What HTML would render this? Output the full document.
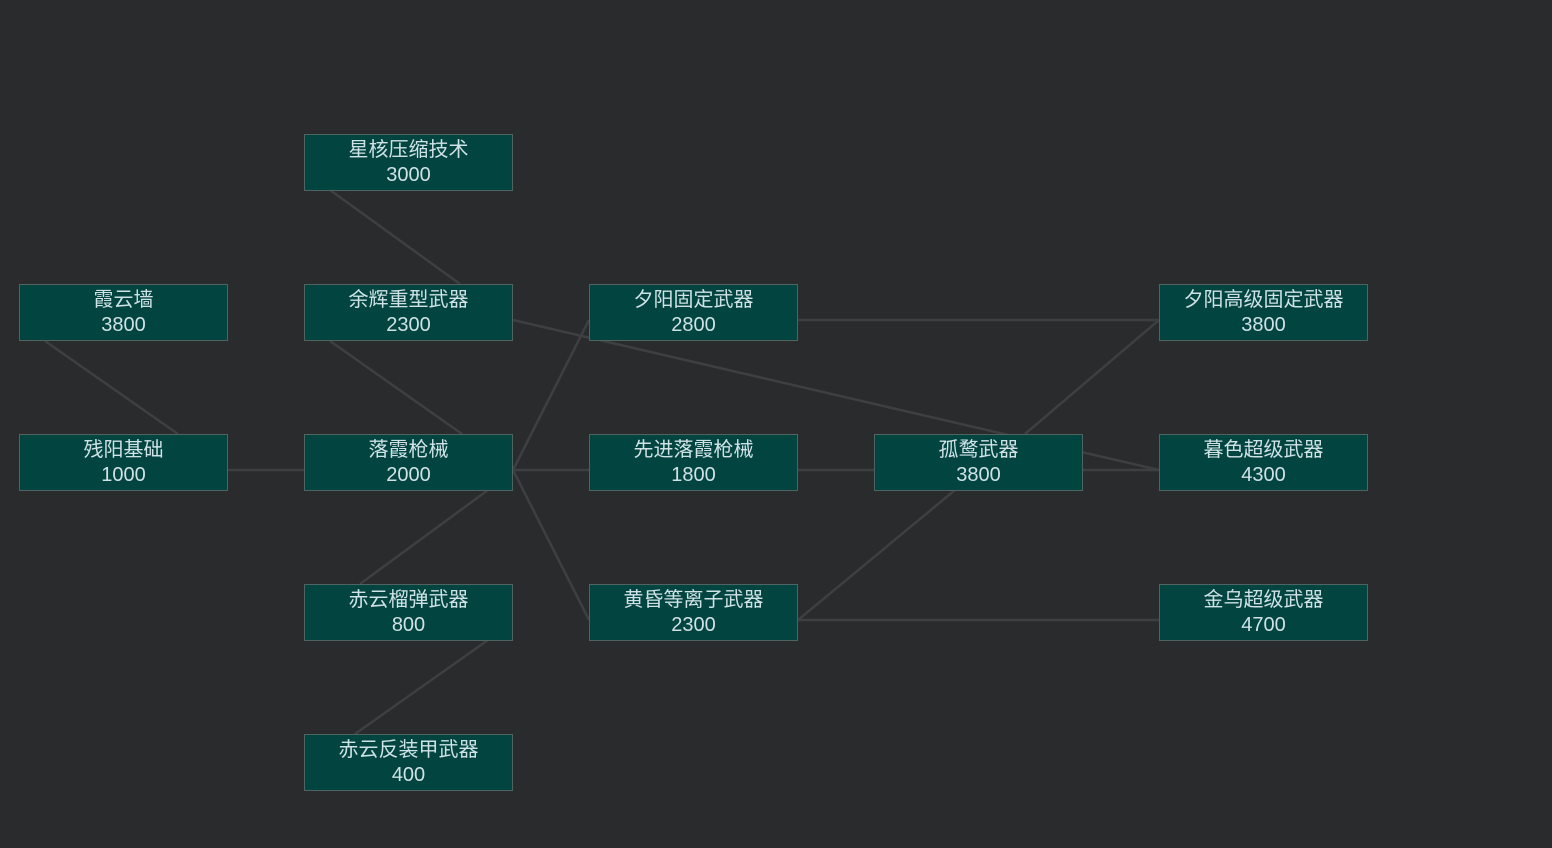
<!DOCTYPE html>
<html><head><meta charset="utf-8"><style>
html,body{margin:0;padding:0;background:#2a2b2d;width:1552px;height:848px;overflow:hidden}
svg{position:absolute;left:0;top:0}
.n{position:absolute;width:207px;background:#024440;border:1px solid #4f6361;color:#cfe2e6;font-family:"Liberation Sans","Noto Sans CJK SC",sans-serif;font-size:20px;line-height:25px;text-align:center;padding-top:3px;box-sizing:content-box;height:52px}
</style></head><body>
<svg width="1552" height="848"><g stroke="#3e3f40" stroke-width="2.5" fill="none">
<line x1="330" y1="190" x2="460" y2="284"/>
<line x1="45" y1="341" x2="178" y2="434"/>
<line x1="330" y1="341" x2="462" y2="434"/>
<line x1="228" y1="470" x2="304" y2="470"/>
<line x1="513" y1="470" x2="589" y2="470"/>
<line x1="513" y1="470" x2="589" y2="320"/>
<line x1="513" y1="470" x2="589" y2="620"/>
<line x1="360" y1="584" x2="488" y2="490"/>
<line x1="355" y1="734" x2="488" y2="640"/>
<line x1="513" y1="320" x2="1159" y2="470"/>
<line x1="798" y1="320" x2="1159" y2="320"/>
<line x1="1025" y1="434" x2="1159" y2="320"/>
<line x1="798" y1="470" x2="874" y2="470"/>
<line x1="1083" y1="470" x2="1159" y2="470"/>
<line x1="798" y1="620" x2="955" y2="490"/>
<line x1="798" y1="620" x2="1159" y2="620"/>
</g></svg>
<div class="n" style="left:304px;top:134px">星核压缩技术<br>3000</div>
<div class="n" style="left:19px;top:284px">霞云墙<br>3800</div>
<div class="n" style="left:304px;top:284px">余辉重型武器<br>2300</div>
<div class="n" style="left:589px;top:284px">夕阳固定武器<br>2800</div>
<div class="n" style="left:1159px;top:284px">夕阳高级固定武器<br>3800</div>
<div class="n" style="left:19px;top:434px">残阳基础<br>1000</div>
<div class="n" style="left:304px;top:434px">落霞枪械<br>2000</div>
<div class="n" style="left:589px;top:434px">先进落霞枪械<br>1800</div>
<div class="n" style="left:874px;top:434px">孤鹜武器<br>3800</div>
<div class="n" style="left:1159px;top:434px">暮色超级武器<br>4300</div>
<div class="n" style="left:304px;top:584px">赤云榴弹武器<br>800</div>
<div class="n" style="left:589px;top:584px">黄昏等离子武器<br>2300</div>
<div class="n" style="left:1159px;top:584px">金乌超级武器<br>4700</div>
<div class="n" style="left:304px;top:734px">赤云反装甲武器<br>400</div>
</body></html>
